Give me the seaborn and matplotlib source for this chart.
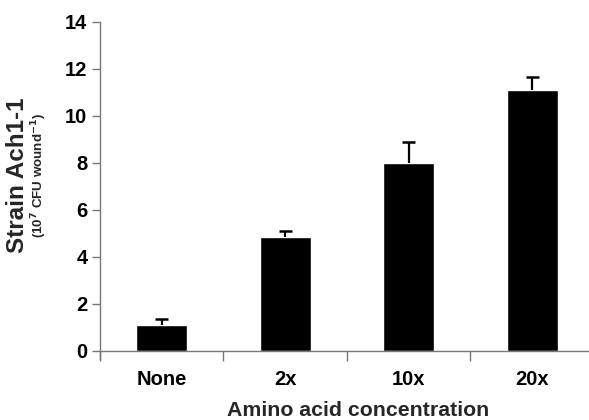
import numpy as np
import matplotlib.pyplot as plt
import seaborn as sns
import pandas as pd

categories = ['None', '2x', '10x', '20x']
means = [1.1, 4.84, 7.98, 11.1]
errors = [0.27, 0.26, 0.92, 0.55]

sns.set_style('white')
plt.rcParams['font.family'] = ['Liberation Sans', 'DejaVu Sans']
plt.rcParams['font.weight'] = 'bold'

df = pd.DataFrame({'conc': categories, 'cfu': means})

fig = plt.figure(figsize=(5.89, 4.20), dpi=100)
ax = fig.add_axes([100/589, 61/420, 489/589, 337/420])

sns.barplot(data=df, x='conc', y='cfu', color='black', width=0.41,
            saturation=1, ax=ax)

# error bars drawn upward only, cap on top
pos = np.arange(len(categories))
tops = np.array(means) + np.array(errors)
ax.vlines(pos, means, tops, color='black', linewidth=1.6)
ax.hlines(tops, pos - 0.053, pos + 0.053, color='black', linewidth=1.8)

ax.set_xlim(-0.5, 3.46)
ax.set_ylim(-0.35, 14)
ax.set_yticks(np.arange(0, 15, 2))
ax.set_xticks(pos)
ax.set_xticklabels(categories)
ax.set_xticks([-0.5, 0.5, 1.5, 2.5], minor=True)

grey = '#777777'
for side in ['top', 'right']:
    ax.spines[side].set_visible(False)
ax.spines['bottom'].set_position(('data', 0))
ax.spines['bottom'].set_color(grey)
ax.spines['left'].set_color(grey)
ax.spines['bottom'].set_linewidth(1.0)
ax.spines['left'].set_linewidth(1.0)
ax.tick_params(axis='y', which='major', left=True, length=6, width=1, color=grey,
               pad=3, labelsize=14.5, labelcolor='black')
ax.tick_params(axis='x', which='major', bottom=False, pad=10, labelsize=14.5,
               labelcolor='black')
ax.tick_params(axis='x', which='minor', bottom=True, direction='out', length=7,
               width=1, color=grey)
for lbl in ax.get_xticklabels() + ax.get_yticklabels():
    lbl.set_fontweight('bold')

ax.set_xlabel('')
ax.set_ylabel('')
fig.text(358/589, 1 - 410/420, 'Amino acid concentration', fontsize=15.3,
         fontweight='bold', ha='center', va='center')
fig.text(18/589, 1 - 175/420, 'Strain Ach1-1', rotation=90, fontsize=17.5,
         fontweight='bold', ha='center', va='center')
fig.text(39/589, 1 - 176/420, '(10$^{\\mathbf{7}}$ CFU wound$^{\\mathbf{-1}}$)', rotation=90,
         fontsize=9.6, fontweight='bold', ha='center', va='center')

plt.savefig('out.png', dpi=100)
